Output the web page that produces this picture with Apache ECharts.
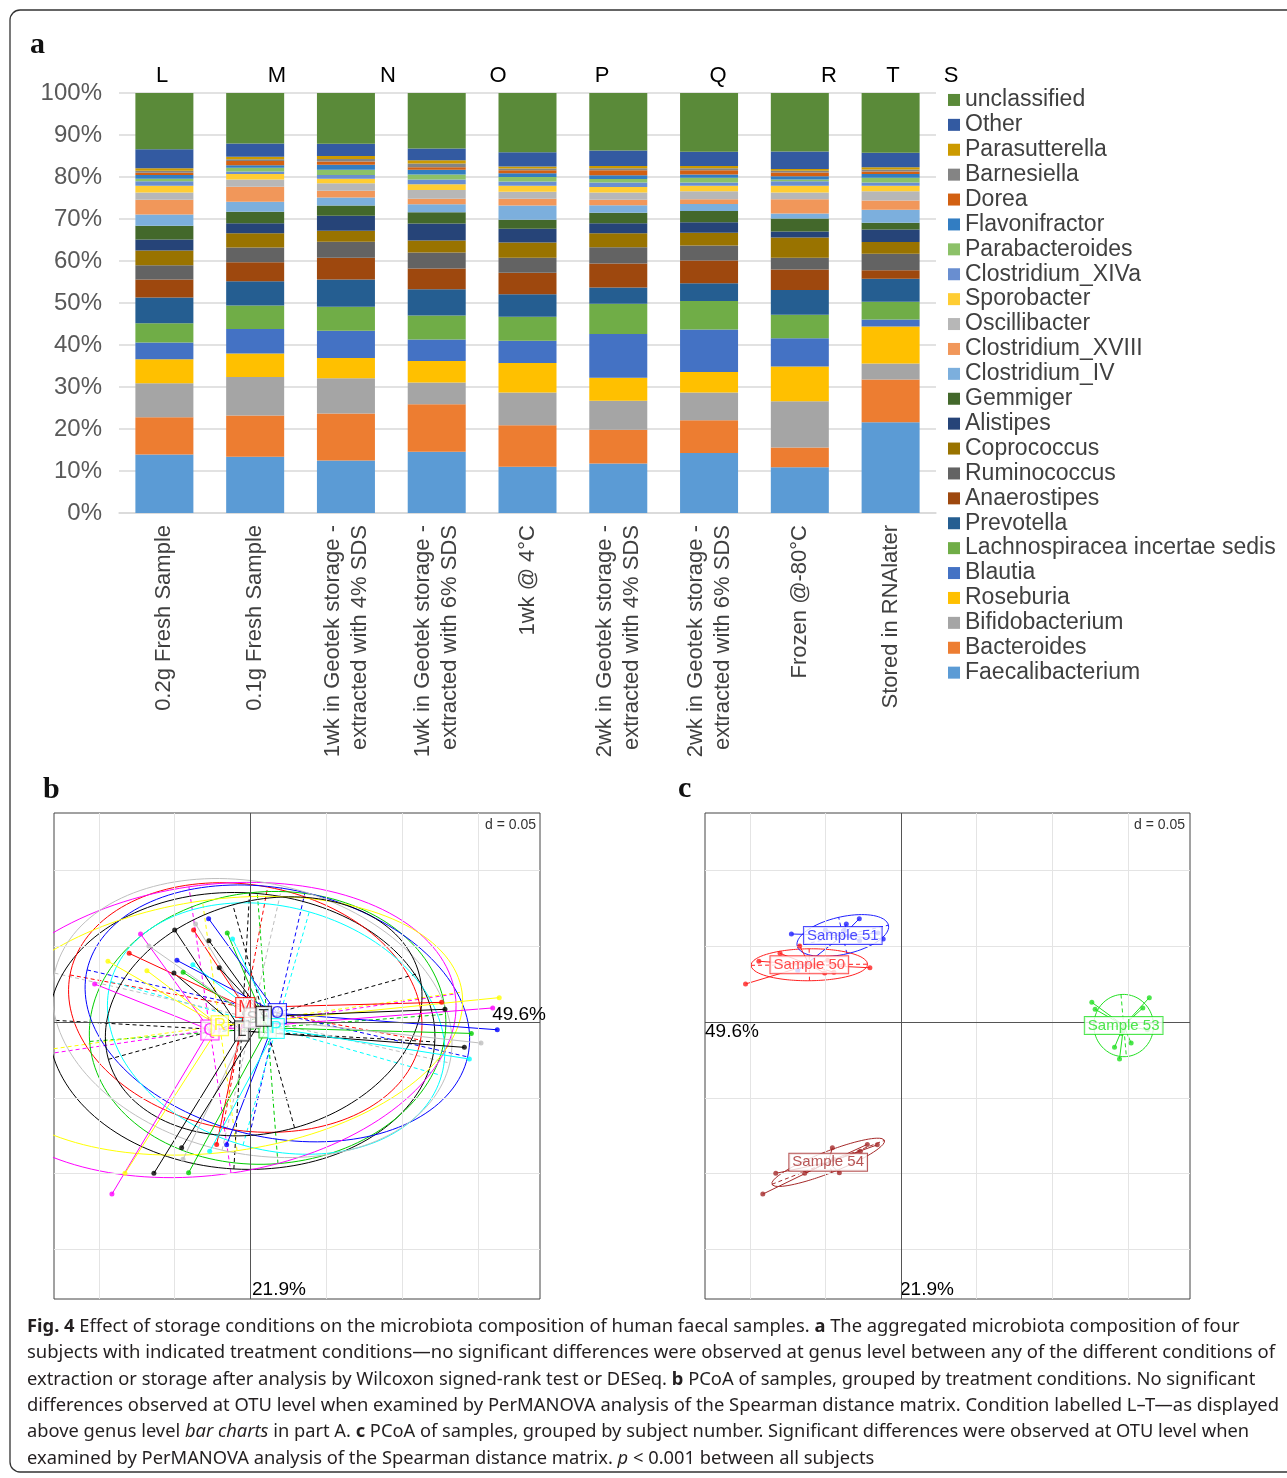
<!DOCTYPE html>
<html><head><meta charset="utf-8">
<script src="https://cdn.jsdelivr.net/npm/echarts@6/dist/echarts.min.js"></script>
<style>html,body{margin:0;padding:0;background:#fff}#chart{width:1287px;height:1478px}</style>
</head><body><div id="chart"></div>
<script>
// ---------- Panel a: genus composition (%), stacked bottom -> top ----------
const genera = ['Faecalibacterium','Bacteroides','Bifidobacterium','Roseburia','Blautia','Lachnospiracea incertae sedis','Prevotella','Anaerostipes','Ruminococcus','Coprococcus','Alistipes','Gemmiger','Clostridium_IV','Clostridium_XVIII','Oscillibacter','Sporobacter','Clostridium_XIVa','Parabacteroides','Flavonifractor','Dorea','Barnesiella','Parasutterella','Other','unclassified'];
const conditionLabels = ['0.2g Fresh Sample','0.1g Fresh Sample','1wk in Geotek storage -\nextracted with 4% SDS','1wk in Geotek storage -\nextracted with 6% SDS','1wk @ 4°C','2wk in Geotek storage -\nextracted with 4% SDS','2wk in Geotek storage -\nextracted with 6% SDS','Frozen @-80°C','Stored in RNAlater'];
const yTicks = [0,10,20,30,40,50,60,70,80,90,100];
const topLetters = ['L','M','N','O','P','Q','R','T','S'];

const fresh02g   = [13.9, 8.9, 8.1, 5.7, 4.0, 4.6, 6.1, 4.3, 3.4, 3.5, 2.6, 3.3, 2.7, 3.5, 1.7, 1.6, 1.1, 0.6, 0.9, 0.5, 0.5, 0.6, 4.5, 13.4];
const fresh01g   = [13.4, 9.8, 9.2, 5.6, 5.8, 5.6, 5.8, 4.5, 3.5, 3.4, 2.4, 2.7, 2.4, 3.6, 1.7, 1.3, 0.6, 0.9, 0.6, 1.0, 0.4, 0.6, 3.2, 12.0];
const geotek1wk4 = [12.5, 11.2, 8.4, 4.8, 6.5, 5.7, 6.5, 5.2, 3.8, 2.6, 3.6, 2.4, 1.9, 1.6, 1.8, 1.1, 0.9, 1.2, 1.2, 0.8, 0.6, 0.7, 2.9, 12.1];
const geotek1wk6 = [14.6, 11.3, 5.2, 5.1, 5.1, 5.7, 6.3, 4.9, 3.8, 2.9, 4.0, 2.7, 1.9, 1.3, 2.1, 1.4, 1.1, 1.2, 1.1, 0.6, 0.9, 0.8, 2.8, 13.2];
const cold4C     = [11.0, 9.9, 7.8, 7.0, 5.3, 5.7, 5.4, 5.1, 3.6, 3.6, 3.3, 2.1, 3.4, 1.6, 1.7, 1.4, 1.0, 1.1, 0.9, 0.7, 0.4, 0.5, 3.4, 14.1];
const geotek2wk4 = [11.8, 8.0, 6.9, 5.5, 10.4, 7.2, 3.9, 5.7, 3.9, 3.3, 2.4, 2.5, 1.8, 1.3, 1.7, 1.3, 1.1, 0.8, 0.9, 1.2, 0.5, 0.5, 3.7, 13.7];
const geotek2wk6 = [14.3, 7.8, 6.6, 4.9, 10.1, 6.8, 4.2, 5.4, 3.6, 3.0, 2.5, 2.7, 1.7, 1.1, 1.9, 1.3, 0.8, 1.1, 0.8, 1.0, 0.5, 0.5, 3.4, 14.0];
const frozen80   = [10.9, 4.7, 11.0, 8.3, 6.7, 5.6, 5.9, 4.9, 2.8, 4.8, 1.4, 3.1, 1.2, 3.4, 1.6, 1.6, 1.1, 0.4, 0.8, 0.9, 0.4, 0.4, 4.2, 13.9];
const rnalater   = [21.6, 10.2, 3.8, 8.8, 1.7, 4.2, 5.5, 2.0, 3.9, 2.8, 3.0, 1.6, 3.1, 2.2, 2.2, 1.3, 0.8, 1.1, 0.9, 0.6, 0.5, 0.5, 3.5, 14.2];

// ---------- Panels b & c: PCoA coordinates, per subject, conditions L..T ----------
const conditionCodes = ['L','M','N','O','P','Q','R','S','T'];
const subjectNames = ['Sample 50','Sample 51','Sample 53','Sample 54'];
const sample50 = [[-0.0505,0.0323],[-0.0800,0.0453],[-0.0444,0.0328],[-0.0485,0.0407],[-0.0380,0.0378],[-0.1028,0.0251],[-0.0940,0.0401],[-0.0670,0.0502],[-0.0206,0.0358]];
const sample51 = [[-0.0500,0.0607],[-0.0375,0.0607],[-0.0153,0.0587],[-0.0276,0.0682],[-0.0118,0.0548],[-0.0725,0.0581],[-0.0683,0.0339],[-0.0362,0.0647],[-0.0274,0.0537]];
const sample53 = [[0.1411,-0.0167],[0.1261,0.0130],[0.1457,-0.0075],[0.1628,-0.0051],[0.1444,-0.0244],[0.1598,0.0093],[0.1641,0.0161],[0.1521,-0.0139],[0.1283,0.0084]];
const sample54 = [[-0.0637,-0.0998],[-0.0223,-0.0807],[-0.0408,-0.0994],[-0.0157,-0.0810],[-0.0269,-0.0853],[-0.0914,-0.1135],[-0.0828,-0.0998],[-0.0445,-0.0905],[-0.0454,-0.0829]];
const gridStepsX = [-0.1,-0.05,0.05,0.1,0.15];
const gridStepsY = [-0.15,-0.1,-0.05,0.05,0.1];

// ---------- styles ----------
const barColors = ['#5B9BD5','#ED7D31','#A5A5A5','#FFC000','#4472C4','#70AD47','#255E91','#9E480E','#636363','#997300','#264478','#43682B','#7CAFDD','#F1975A','#B7B7B7','#FFCD33','#698ED0','#8CC168','#327DC2','#D26012','#848484','#CC9A00','#335AA1','#5A8A39'];
const condColors = ['#000000','#FF0000','#00CD00','#0000FF','#00FFFF','#FF00FF','#FFFF00','#BEBEBE','#000000'];
const subjColors = ['#FF2020','#2020FF','#22E022','#A52A2A'];
const FONT = '"Liberation Sans", Arial, sans-serif';

const samplesA = [fresh02g, fresh01g, geotek1wk4, geotek1wk6, cold4C, geotek2wk4, geotek2wk6, frozen80, rnalater];

const series = genera.map((g, i) => ({
  name: g, type: 'bar', stack: 'total', barWidth: 58,
  xAxisIndex: 0, yAxisIndex: 0,
  itemStyle: { color: barColors[i] },
  emphasis: { disabled: true },
  data: samplesA.map(s => s[i])
}));

function groupSeries(pts, color, label, ax, fontSize, pad) {
  const n = pts.length;
  let mx = 0, my = 0;
  pts.forEach(p => { mx += p[0]; my += p[1]; });
  mx /= n; my /= n;
  let vxx = 0, vyy = 0, vxy = 0;
  pts.forEach(p => { const dx = p[0]-mx, dy = p[1]-my; vxx += dx*dx; vyy += dy*dy; vxy += dx*dy; });
  vxx /= n; vyy /= n; vxy /= n;
  const tr = vxx + vyy, det = vxx*vyy - vxy*vxy;
  const disc = Math.sqrt(Math.max(tr*tr/4 - det, 0));
  const l1 = tr/2 + disc, l2 = Math.max(tr/2 - disc, 0);
  const th = 0.5 * Math.atan2(2*vxy, vxx - vyy);
  const a = 1.5*Math.sqrt(l1), b = 1.5*Math.sqrt(l2);
  const c = Math.cos(th), s = Math.sin(th);
  const ell = [];
  for (let k = 0; k <= 160; k++) {
    const t = 2*Math.PI*k/160;
    ell.push([mx + a*c*Math.cos(t) - b*s*Math.sin(t), my + a*s*Math.cos(t) + b*c*Math.sin(t)]);
  }
  const common = { xAxisIndex: ax, yAxisIndex: ax, silent: true, animation: false };
  return [
    Object.assign({ type: 'line', data: ell, showSymbol: false, symbol: 'none', clip: true,
      lineStyle: { color, width: 1 }, z: 3 }, common),
    Object.assign({ type: 'lines', coordinateSystem: 'cartesian2d', clip: true,
      data: [{ coords: [[mx - a*c, my - a*s], [mx + a*c, my + a*s]] },
             { coords: [[mx + b*s, my - b*c], [mx - b*s, my + b*c]] }],
      lineStyle: { color, width: 1, type: [4, 3], opacity: 1 }, z: 3 }, common),
    Object.assign({ type: 'lines', coordinateSystem: 'cartesian2d', clip: true,
      data: pts.map(p => ({ coords: [[mx, my], p] })),
      lineStyle: { color, width: 1, opacity: 1 }, z: 4 }, common),
    Object.assign({ type: 'scatter', data: pts, symbolSize: 5, clip: true,
      itemStyle: { color }, z: 5 }, common),
    Object.assign({ type: 'scatter', data: [[mx, my]], symbolSize: 0,
      label: { show: true, position: 'inside', formatter: label, color, fontSize, fontFamily: FONT,
        backgroundColor: '#fff', borderColor: color, borderWidth: 1, padding: pad },
      z: 6 }, common)
  ];
}

function gridLineSeries(ax) {
  return {
    type: 'scatter', xAxisIndex: ax, yAxisIndex: ax, data: [[0, 0]], symbolSize: 0, silent: true, z: 1,
    markLine: {
      silent: true, symbol: 'none', animation: false, label: { show: false },
      lineStyle: { color: '#e4e4e4', width: 1, type: 'solid' },
      data: gridStepsX.map(v => ({ xAxis: v })).concat(gridStepsY.map(v => ({ yAxis: v })))
        .concat([{ xAxis: 0, lineStyle: { color: '#555', width: 1, type: 'solid' } },
                 { yAxis: 0, lineStyle: { color: '#555', width: 1, type: 'solid' } }])
    }
  };
}

// Panel b: grouped by condition (4 subjects each)
const allSubjects = [sample50, sample51, sample53, sample54];
series.push(gridLineSeries(1));
const bGroups = [];
conditionCodes.forEach((code, ci) => {
  const pts = allSubjects.map(s => s[ci]);
  bGroups.push(groupSeries(pts, condColors[ci], code, 1, 17, [1, 2]));
});
bGroups.forEach(g => series.push(...g.slice(0, 4)));
bGroups.forEach(g => series.push(g[4]));
// Panel c: grouped by subject (9 conditions each)
series.push(gridLineSeries(2));
const cGroups = allSubjects.map((s, si) => groupSeries(s, subjColors[si], subjectNames[si], 2, 15, [1, 3]));
cGroups.forEach(g => series.push(...g.slice(0, 4)));
cGroups.forEach(g => series.push(g[4]));

const pcoaAxis = (i) => ({ type: 'value', gridIndex: i, show: false, min: -0.1296, max: 0.1910 });
const pcoaYAxis = (i) => ({ type: 'value', gridIndex: i, show: false, min: -0.1827, max: 0.1379 });

// ---------- caption ----------
const caption = [
  ['{b|Fig. 4} Effect of storage conditions on the microbiota composition of human faecal samples. {b|a} The aggregated microbiota composition of four', 1210],
  ['subjects with indicated treatment conditions—no significant differences were observed at genus level between any of the different conditions of', 1248],
  ['extraction or storage after analysis by Wilcoxon signed-rank test or DESeq. {b|b} PCoA of samples, grouped by treatment conditions. No significant', 1228],
  ['differences observed at OTU level when examined by PerMANOVA analysis of the Spearman distance matrix. Condition labelled L–T—as displayed', 1252],
  ['above genus level {i|bar charts} in part A. {b|c} PCoA of samples, grouped by subject number. Significant differences were observed at OTU level when', 1225],
  ['examined by PerMANOVA analysis of the Spearman distance matrix. {i|p} < 0.001 between all subjects', 848]
];
const CAP_FONT = '"Noto Sans", "Open Sans", sans-serif';
const mctx = document.createElement('canvas').getContext('2d');
mctx.font = '18px "Noto Sans"';
const graphics = [
  { type: 'rect', shape: { x: 10, y: 10, width: 1300, height: 1462, r: 10 }, style: { fill: 'none', stroke: '#333', lineWidth: 1.3 }, silent: true },
  { type: 'text', x: 30, y: 45, style: { text: 'a', fontSize: 30, fontWeight: 'bold', fontFamily: '"Liberation Serif", serif', fill: '#111', verticalAlign: 'middle' } },
  { type: 'text', x: 43, y: 790, style: { text: 'b', fontSize: 30, fontWeight: 'bold', fontFamily: '"Liberation Serif", serif', fill: '#111', verticalAlign: 'middle' } },
  { type: 'text', x: 678, y: 789, style: { text: 'c', fontSize: 30, fontWeight: 'bold', fontFamily: '"Liberation Serif", serif', fill: '#111', verticalAlign: 'middle' } },
  { type: 'text', x: 546, y: 1015, style: { text: '49.6%', fontSize: 19, fontFamily: FONT, fill: '#000', align: 'right', verticalAlign: 'middle' } },
  { type: 'text', x: 252, y: 1290, style: { text: '21.9%', fontSize: 19, fontFamily: FONT, fill: '#000', align: 'left', verticalAlign: 'middle' } },
  { type: 'text', x: 705, y: 1032, style: { text: '49.6%', fontSize: 19, fontFamily: FONT, fill: '#000', align: 'left', verticalAlign: 'middle' } },
  { type: 'text', x: 900, y: 1290, style: { text: '21.9%', fontSize: 19, fontFamily: FONT, fill: '#000', align: 'left', verticalAlign: 'middle' } },
  { type: 'text', x: 536, y: 825, style: { text: 'd = 0.05', fontSize: 14, fontFamily: FONT, fill: '#333', align: 'right', verticalAlign: 'middle' } },
  { type: 'text', x: 1185, y: 825, style: { text: 'd = 0.05', fontSize: 14, fontFamily: FONT, fill: '#333', align: 'right', verticalAlign: 'middle' } }
];
const letterX = [162, 277, 388, 498, 602, 718, 829, 893, 951];
topLetters.forEach((t, i) => graphics.push({ type: 'text', x: letterX[i], y: 76,
  style: { text: t, fontSize: 22, fontFamily: FONT, fill: '#000', align: 'center', verticalAlign: 'middle' } }));
const capY = [1327, 1353, 1380, 1406, 1432, 1459];
caption.forEach((c, i) => {
  const plain = c[0].replace(/\{[bi]\|([^}]*)\}/g, '$1');
  const w = mctx.measureText(plain).width;
  graphics.push({ type: 'text', x: 27, y: capY[i], scaleX: c[1] / w,
    style: { text: c[0], fontSize: 18, fontFamily: CAP_FONT, fill: '#231F20', verticalAlign: 'middle',
      rich: { b: { fontSize: 18, fontWeight: 'bold', fontFamily: CAP_FONT, fill: '#231F20' },
              i: { fontSize: 18, fontStyle: 'italic', fontFamily: CAP_FONT, fill: '#231F20' } } } });
});

const option = {
  animation: false,
  backgroundColor: '#fff',
  legend: {
    orient: 'vertical', left: 948, top: 87.5, padding: 0, itemGap: 0,
    itemWidth: 12, itemHeight: 12, icon: 'rect', selectedMode: false,
    textStyle: { fontSize: 23, color: '#404040', fontFamily: FONT, lineHeight: 24.9 },
    data: genera.slice().reverse()
  },
  grid: [
    { left: 119, right: 351, top: 93, bottom: 965 },
    { left: 54, top: 813, width: 486, height: 486, show: true, borderColor: '#444', borderWidth: 1, backgroundColor: 'transparent' },
    { left: 705, top: 813, width: 485, height: 486, show: true, borderColor: '#444', borderWidth: 1, backgroundColor: 'transparent' }
  ],
  xAxis: [
    { type: 'category', gridIndex: 0, data: conditionLabels,
      axisLine: { lineStyle: { color: '#d9d9d9', width: 1.5 } }, axisTick: { show: false },
      axisLabel: { rotate: 90, interval: 0, fontSize: 22, color: '#404040', fontFamily: FONT, margin: 12, lineHeight: 27 } },
    pcoaAxis(1), pcoaAxis(2)
  ],
  yAxis: [
    { type: 'value', gridIndex: 0, min: yTicks[0], max: yTicks[yTicks.length - 1], interval: 10,
      axisLine: { show: false }, axisTick: { show: false },
      splitLine: { lineStyle: { color: '#d9d9d9', width: 1.5 } },
      axisLabel: { formatter: '{value}%', fontSize: 24, color: '#595959', fontFamily: FONT, margin: 17 } },
    pcoaYAxis(1), pcoaYAxis(2)
  ],
  graphic: graphics,
  series: series
};
const chart = echarts.init(document.getElementById('chart'), null, { renderer: 'canvas' });
chart.setOption(option);
</script>
</body></html>
